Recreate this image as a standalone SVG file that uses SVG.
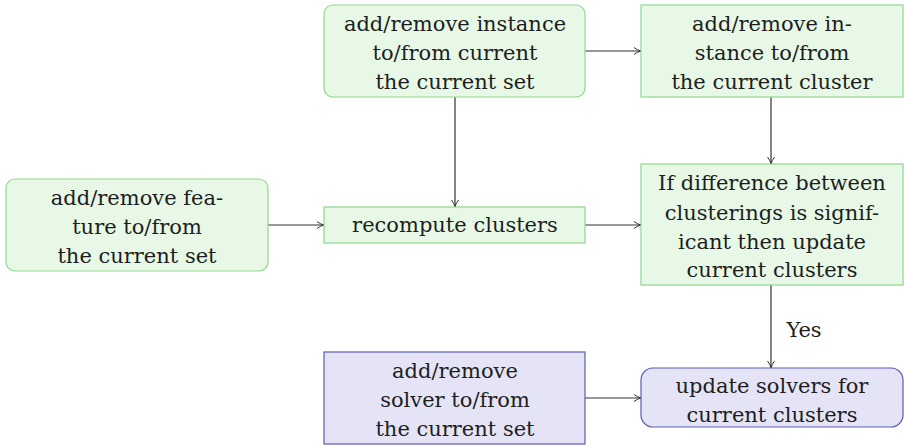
<svg xmlns="http://www.w3.org/2000/svg" width="904" height="447" viewBox="0 0 904 447">
<style>
.g{fill:#e7f8e7;stroke:#90d890;stroke-width:1.2}
.b{fill:#e4e4f6;stroke:#5c5cb0;stroke-width:1.2}
.t{font-family:'DejaVu Serif',serif;font-size:21px;fill:#1e1e1e;text-anchor:middle}
.c{stroke:#333;stroke-width:1.2;fill:none}
</style>
<defs>
<marker id="ar" viewBox="0 0 10 10" refX="10" refY="5" markerWidth="10" markerHeight="10" markerUnits="userSpaceOnUse" orient="auto">
<path d="M3,1.5 Q6,4 10,5 Q6,6 3,8.5" fill="none" stroke="#333" stroke-width="1"/>
</marker>
</defs>
<g id="connectors">
<line class="c" x1="585" y1="51" x2="641" y2="51" marker-end="url(#ar)"/>
<line class="c" x1="455" y1="97" x2="455" y2="207" marker-end="url(#ar)"/>
<line class="c" x1="771" y1="97" x2="771" y2="164" marker-end="url(#ar)"/>
<line class="c" x1="268" y1="225" x2="324" y2="225" marker-end="url(#ar)"/>
<line class="c" x1="585" y1="225" x2="641" y2="225" marker-end="url(#ar)"/>
<line class="c" x1="771" y1="285" x2="771" y2="368" marker-end="url(#ar)"/>
<line class="c" x1="585" y1="398" x2="641" y2="398" marker-end="url(#ar)"/>
<text class="t" x="804" y="337">Yes</text>
</g>
<g id="nodeA" class="t">
<rect class="g" x="324" y="5" width="261" height="92" rx="9"/>
<text x="455" y="31">add/remove instance</text>
<text x="455" y="60">to/from current</text>
<text x="455" y="89">the current set</text>
</g>
<g id="nodeB" class="t">
<rect class="g" x="641" y="5" width="262" height="92"/>
<text x="772" y="31">add/remove in-</text>
<text x="772" y="60">stance to/from</text>
<text x="772" y="89">the current cluster</text>
</g>
<g id="nodeC" class="t">
<rect class="g" x="6" y="179" width="262" height="92" rx="9"/>
<text x="137" y="205">add/remove fea-</text>
<text x="137" y="234">ture to/from</text>
<text x="137" y="263">the current set</text>
</g>
<g id="nodeD" class="t">
<rect class="g" x="324" y="207" width="261" height="36"/>
<text x="455" y="232">recompute clusters</text>
</g>
<g id="nodeE" class="t">
<rect class="g" x="641" y="164" width="262" height="121"/>
<text x="772" y="190">If difference between</text>
<text x="772" y="220">clusterings is signif-</text>
<text x="772" y="249">icant then update</text>
<text x="772" y="277">current clusters</text>
</g>
<g id="nodeF" class="t">
<rect class="b" x="324" y="352" width="261" height="92"/>
<text x="455" y="378">add/remove</text>
<text x="455" y="407">solver to/from</text>
<text x="455" y="436">the current set</text>
</g>
<g id="nodeG" class="t">
<rect class="b" x="641" y="368" width="262" height="59" rx="12"/>
<text x="772" y="393">update solvers for</text>
<text x="772" y="422">current clusters</text>
</g>
</svg>
